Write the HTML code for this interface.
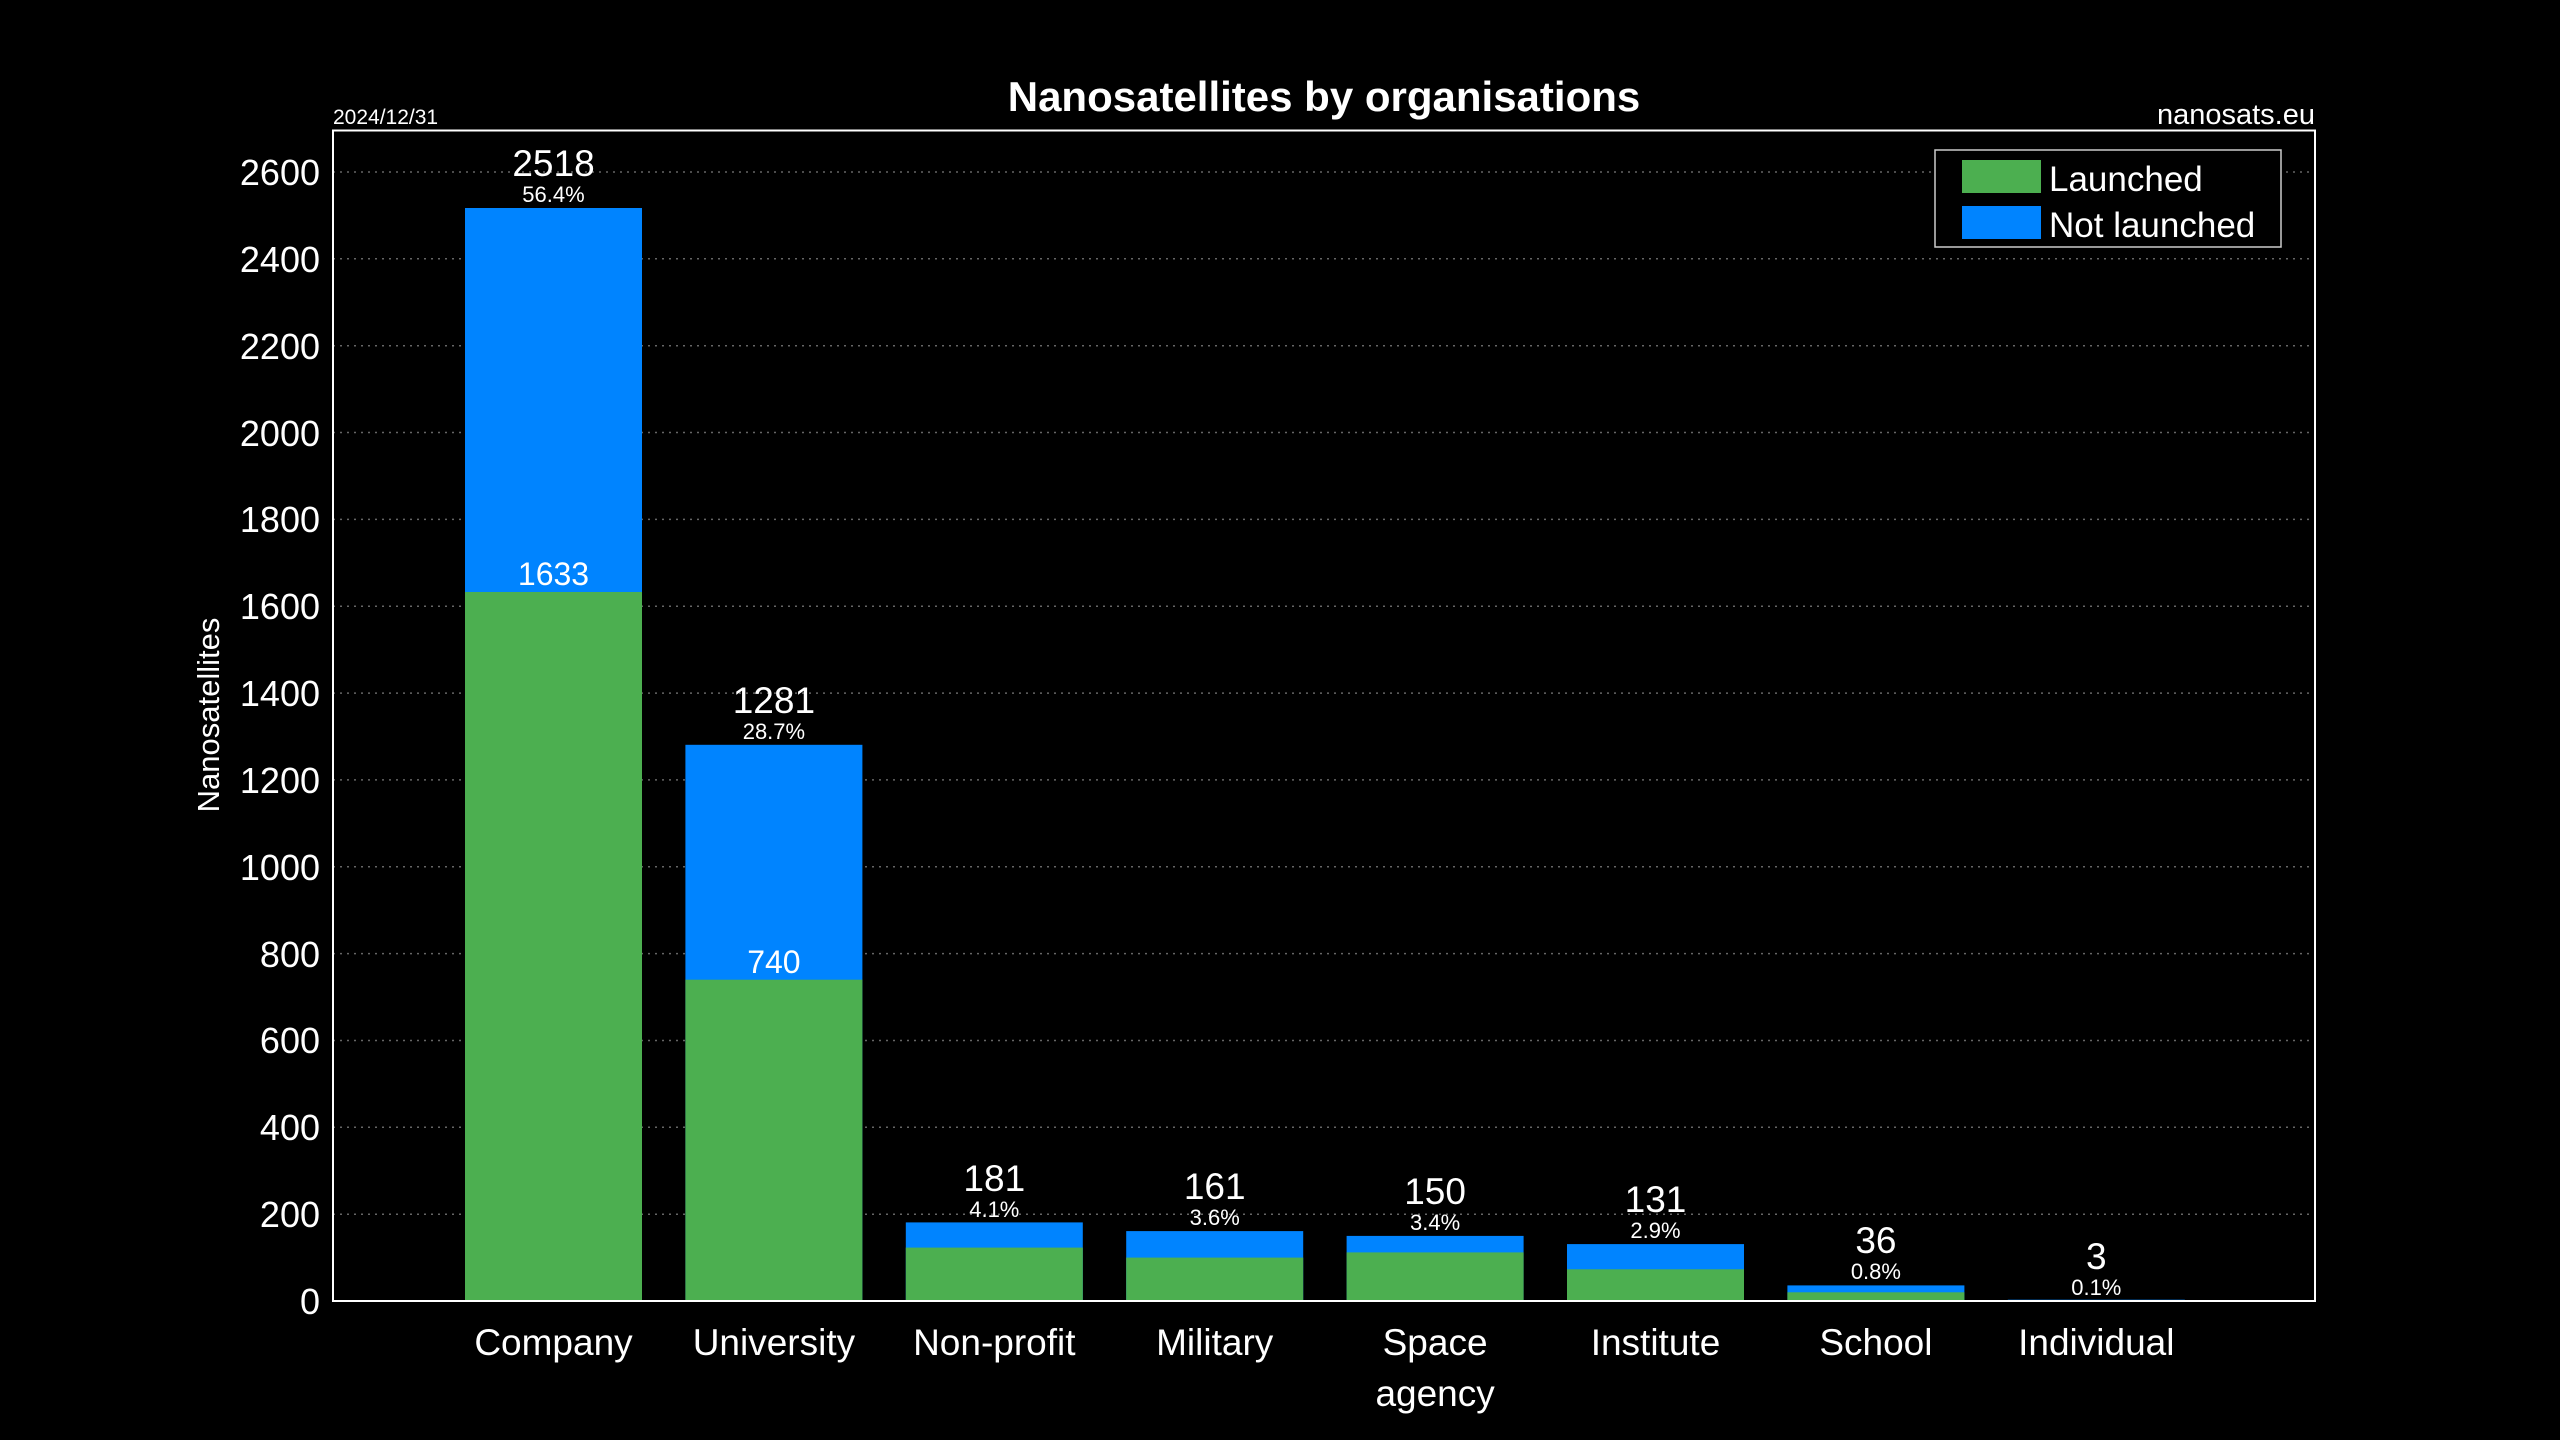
<!DOCTYPE html>
<html><head><meta charset="utf-8"><style>html,body{margin:0;padding:0;background:#000;}svg{display:block;}</style></head><body>
<svg width="2560" height="1440" xmlns="http://www.w3.org/2000/svg" font-family="Liberation Sans, Arial, sans-serif" fill="#fff">
<rect width="2560" height="1440" fill="#000"/>
<g stroke="#666" stroke-width="1.5" stroke-dasharray="2,5">
<line x1="333" x2="2315" y1="1214.2" y2="1214.2"/><line x1="333" x2="2315" y1="1127.3" y2="1127.3"/><line x1="333" x2="2315" y1="1040.5" y2="1040.5"/><line x1="333" x2="2315" y1="953.6" y2="953.6"/><line x1="333" x2="2315" y1="866.8" y2="866.8"/><line x1="333" x2="2315" y1="779.9" y2="779.9"/><line x1="333" x2="2315" y1="693.1" y2="693.1"/><line x1="333" x2="2315" y1="606.2" y2="606.2"/><line x1="333" x2="2315" y1="519.4" y2="519.4"/><line x1="333" x2="2315" y1="432.5" y2="432.5"/><line x1="333" x2="2315" y1="345.7" y2="345.7"/><line x1="333" x2="2315" y1="258.8" y2="258.8"/><line x1="333" x2="2315" y1="172" y2="172"/>
</g>
<g font-size="36" text-anchor="end">
<text x="320" y="1314">0</text><text x="320" y="1227">200</text><text x="320" y="1140">400</text><text x="320" y="1053">600</text><text x="320" y="967">800</text><text x="320" y="880">1000</text><text x="320" y="793">1200</text><text x="320" y="706">1400</text><text x="320" y="619">1600</text><text x="320" y="532">1800</text><text x="320" y="446">2000</text><text x="320" y="359">2200</text><text x="320" y="272">2400</text><text x="320" y="185">2600</text>
</g>
<g>
<rect x="465" y="208" width="177" height="1093" fill="#0084ff"/><rect x="465" y="592" width="177" height="709" fill="#4caf50"/>
<rect x="685.4" y="744.8" width="177" height="556.2" fill="#0084ff"/><rect x="685.4" y="979.7" width="177" height="321.3" fill="#4caf50"/>
<rect x="905.8" y="1222.4" width="177" height="78.6" fill="#0084ff"/><rect x="905.8" y="1247.6" width="177" height="53.4" fill="#4caf50"/>
<rect x="1126.2" y="1231.1" width="177" height="69.9" fill="#0084ff"/><rect x="1126.2" y="1257.6" width="177" height="43.4" fill="#4caf50"/>
<rect x="1346.6" y="1235.9" width="177" height="65.1" fill="#0084ff"/><rect x="1346.6" y="1252.4" width="177" height="48.6" fill="#4caf50"/>
<rect x="1567" y="1244.1" width="177" height="56.9" fill="#0084ff"/><rect x="1567" y="1269.3" width="177" height="31.7" fill="#4caf50"/>
<rect x="1787.4" y="1285.4" width="177" height="15.6" fill="#0084ff"/><rect x="1787.4" y="1292.3" width="177" height="8.7" fill="#4caf50"/>
<rect x="2007.8" y="1299.7" width="177" height="1.3" fill="#0084ff"/>
</g>
<g text-anchor="middle">
<g font-size="37">
<text x="553.5" y="176">2518</text><text x="773.9" y="713">1281</text><text x="994.3" y="1191">181</text><text x="1214.7" y="1199">161</text><text x="1435.1" y="1204">150</text><text x="1655.5" y="1212">131</text><text x="1875.9" y="1253">36</text><text x="2096.3" y="1269">3</text>
</g>
<g font-size="22">
<text x="553.5" y="202">56.4%</text><text x="773.9" y="739">28.7%</text><text x="994.3" y="1217">4.1%</text><text x="1214.7" y="1225">3.6%</text><text x="1435.1" y="1230">3.4%</text><text x="1655.5" y="1238">2.9%</text><text x="1875.9" y="1279">0.8%</text><text x="2096.3" y="1295">0.1%</text>
</g>
<g font-size="32">
<text x="553.5" y="585">1633</text><text x="773.9" y="973">740</text>
</g>
<g font-size="37">
<text x="553.5" y="1355">Company</text><text x="773.9" y="1355">University</text><text x="994.3" y="1355">Non-profit</text><text x="1214.7" y="1355">Military</text><text x="1435.1" y="1355">Space</text><text x="1435.1" y="1406">agency</text><text x="1655.5" y="1355">Institute</text><text x="1875.9" y="1355">School</text><text x="2096.3" y="1355">Individual</text>
</g>
<text x="1324" y="111" font-size="42" font-weight="bold">Nanosatellites by organisations</text>
<text transform="translate(219,715) rotate(-90)" font-size="31">Nanosatellites</text>
</g>
<text x="333" y="124" font-size="21">2024/12/31</text>
<text x="2315" y="124" font-size="29" text-anchor="end">nanosats.eu</text>
<rect x="333" y="130.5" width="1982" height="1170.5" fill="none" stroke="#fff" stroke-width="2"/>
<rect x="1935" y="150" width="346" height="97" fill="#000" stroke="#ccc" stroke-width="1.5"/>
<rect x="1962" y="160" width="79" height="33" fill="#4caf50"/>
<rect x="1962" y="206" width="79" height="33" fill="#0084ff"/>
<text x="2049" y="191" font-size="35">Launched</text>
<text x="2049" y="237" font-size="35">Not launched</text>
</svg>
</body></html>
